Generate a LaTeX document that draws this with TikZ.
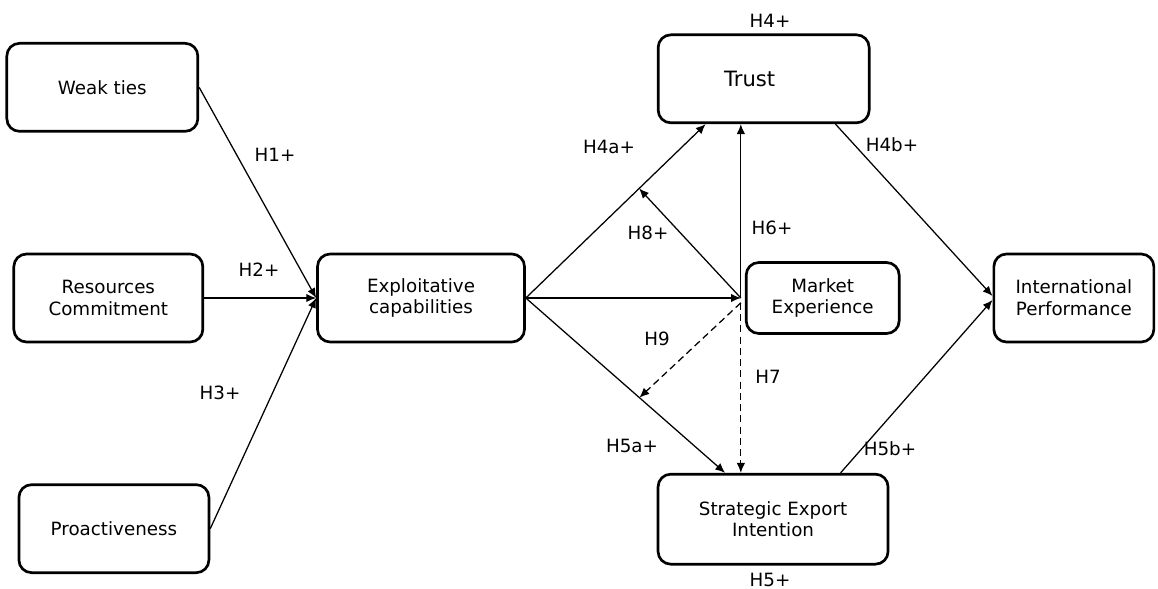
\documentclass[tikz,border=0pt]{standalone}
\usepackage{fontspec}
\setmainfont{DejaVu Sans}
\usetikzlibrary{arrows.meta, positioning, calc}

\begin{document}
\begin{tikzpicture}[
  box/.style  = {rectangle, rounded corners=9pt, draw, line width=1.9pt,
                 align=center, font=\fontsize{13}{15.5}\selectfont,
                 minimum height=2.2cm},
  arr/.style  = {-{Latex[length=7pt,width=6pt]}, line width=0.9pt},
  darr/.style = {arr, dash pattern=on 5pt off 3pt},
  hlab/.style = {font=\fontsize{13}{15.5}\selectfont, inner sep=1pt},
]
\useasboundingbox (0,0) rectangle (28.95,-14.725);

\node[box, minimum width=5.175cm] (exp) at (10.525,-7.45) {Exploitative\\capabilities};
\node[box, minimum width=4.725cm, left=2.8cm of exp] (res) {Resources\\Commitment};
\node[box, minimum width=4.775cm, above=3cm of res, xshift=-0.15cm] (weak) {Weak ties};
\node[box, minimum width=4.75cm, below=3.5cm of res, xshift=0.14cm] (pro) {Proactiveness};
\node[box, minimum width=3.825cm, minimum height=1.775cm, right=5.475cm of exp] (mexp) {Market\\Experience};
\node[box, minimum width=5.275cm, above=3.425cm of mexp, xshift=-1.475cm,
      font=\fontsize{15}{18}\selectfont] (trust) {Trust\hspace*{0.7cm}};
\node[box, minimum width=5.75cm, minimum height=2.25cm, below=3.45cm of mexp, xshift=-1.24cm] (sei) {Strategic Export\\Intention};
\node[box, minimum width=4cm, right=2.3cm of mexp] (ip) {International\\Performance};

% meeting points
\coordinate (mx)    at ([xshift=-0.1cm]mexp.west);
\coordinate (t4a)   at ([xshift=1.22cm]trust.south west);
\coordinate (s5a)   at ([xshift=-1.2cm]sei.north);
\coordinate (h8tip) at ($(exp.east)!0.63!(t4a)$);
\coordinate (h9tip) at ($(exp.east)!0.57!(s5a)$);

\draw[arr] (weak.east) -- (exp.west);
\draw[arr] (res.east)  -- (exp.west);
\draw[arr] (pro.east)  -- (exp.west);
\draw[arr] (exp.east)  -- (t4a);
\draw[arr] (exp.east)  -- (mx);
\draw[arr] (exp.east)  -- (s5a);
\draw[arr] (mx) -- (mx |- trust.south);
\draw[arr] (mx) -- (h8tip);
\draw[darr] ([yshift=-0.12cm]mx) -- (h9tip);
\draw[darr] ([yshift=-0.12cm]mx) -- (mx |- sei.north);
\draw[arr] ([xshift=-0.875cm]trust.south east) -- ([yshift=0.05cm]ip.west);
\draw[arr] ([xshift=-1.22cm]sei.north east)    -- ([yshift=-0.05cm]ip.west);

% hypothesis labels
\node[hlab] (h1)  at (6.875,-3.875)  {H1+};
\node[hlab] (h2)  at (6.475,-6.75)   {H2+};
\node[hlab] (h3)  at (5.5,-9.825)    {H3+};
\node[hlab] (h4)  at (19.25,-0.525)  {H4+};
\node[hlab] (h4a) at (15.225,-3.675) {H4a+};
\node[hlab] (h4b) at (22.3,-3.625)   {H4b+};
\node[hlab] (h8)  at (16.2,-5.825)   {H8+};
\node[hlab] (h6)  at (19.3,-5.7)     {H6+};
\node[hlab] (h9)  at (16.425,-8.475) {H9};
\node[hlab] (h7)  at (19.2,-9.425)   {H7};
\node[hlab] (h5a) at (15.8,-11.15)   {H5a+};
\node[hlab] (h5b) at (22.25,-11.225) {H5b+};
\node[hlab] (h5)  at (19.25,-14.5)   {H5+};

\end{tikzpicture}
\end{document}
